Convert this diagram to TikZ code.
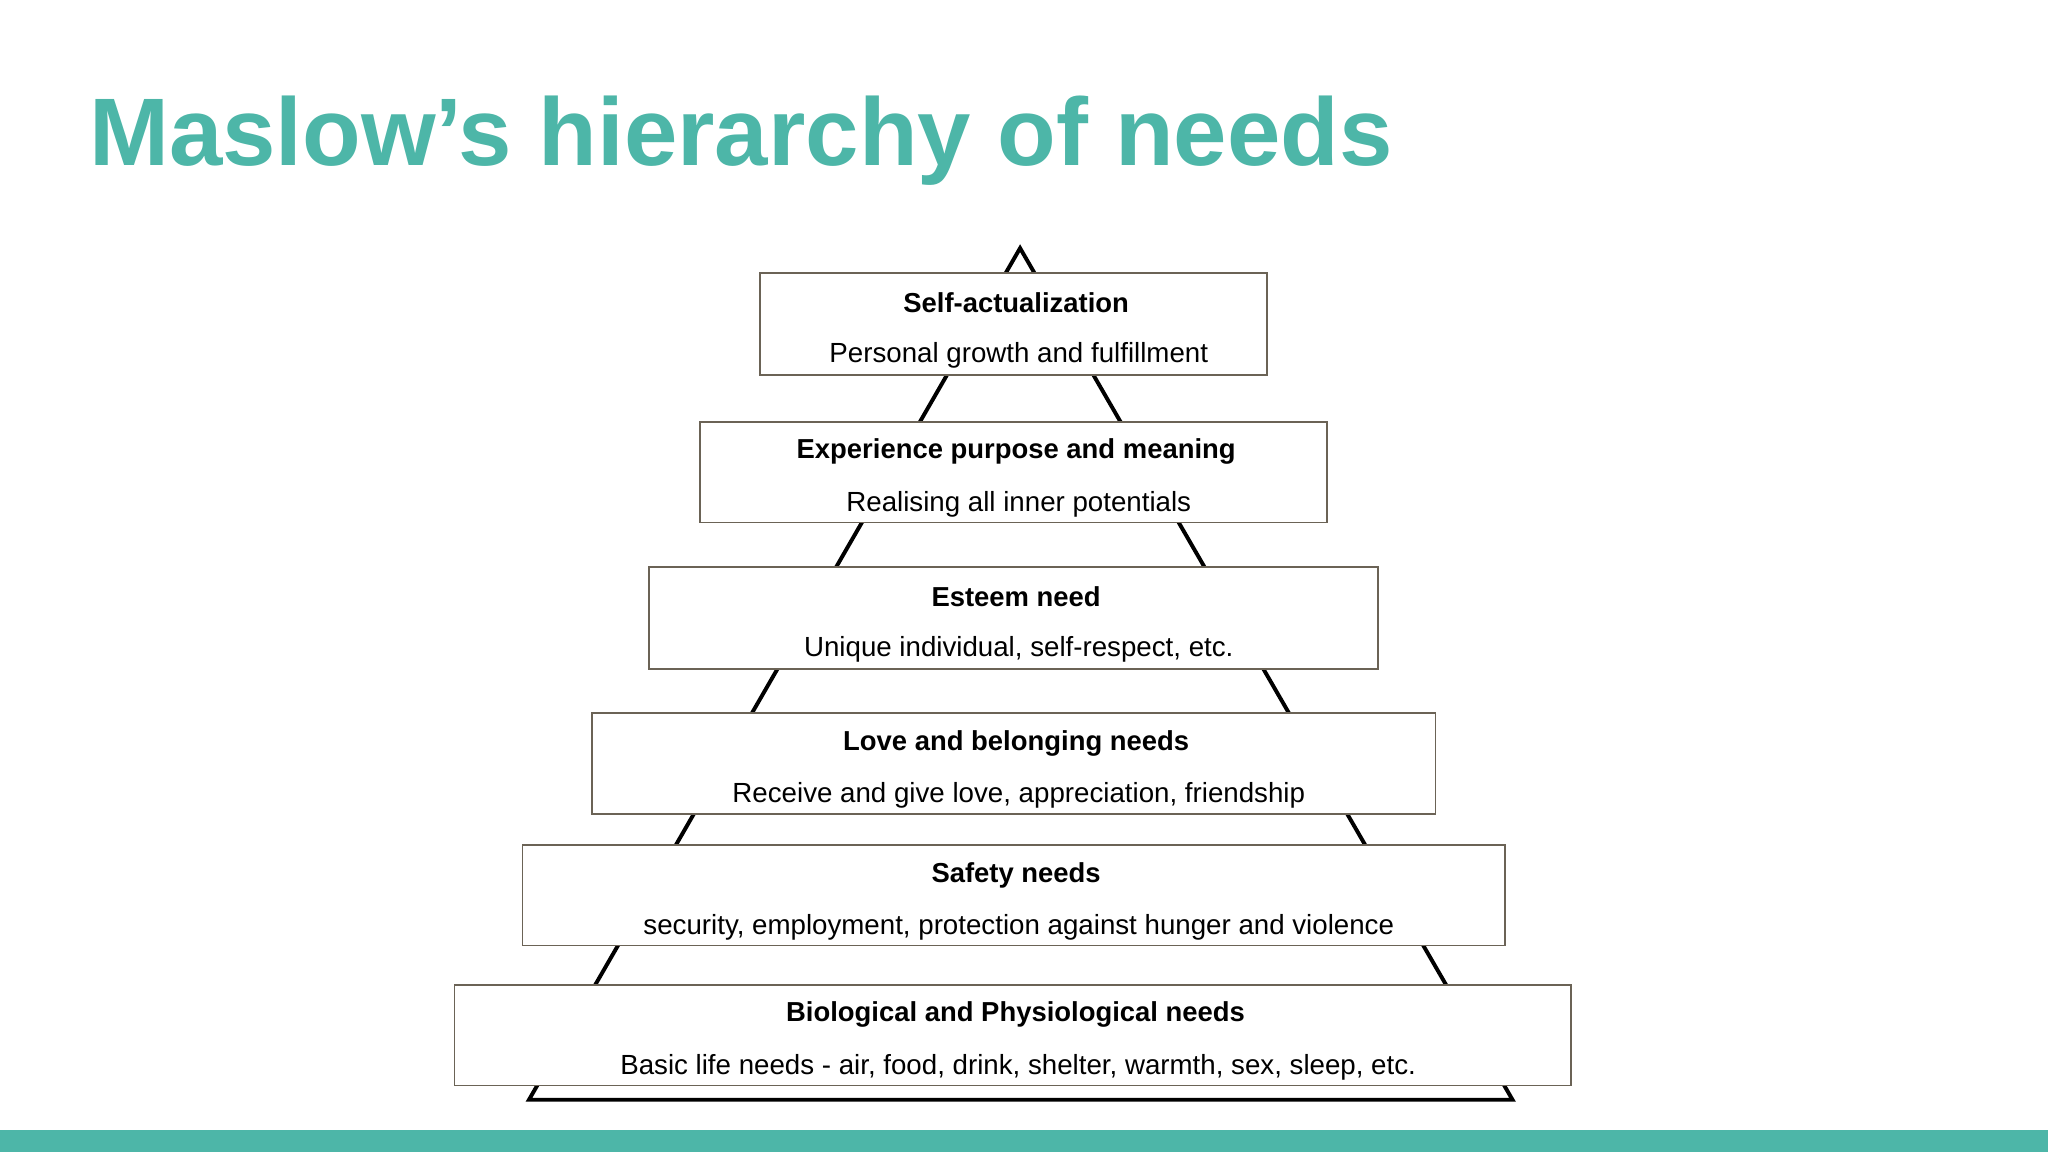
\documentclass[tikz,border=0pt]{standalone}
\usepackage{fontspec}
\setmainfont{Liberation Sans}
\definecolor{teal1}{HTML}{4DB6A8}
\definecolor{boxb}{HTML}{6B6356}
\begin{document}
\begin{tikzpicture}[x=1pt,y=-1pt,
  lvl/.style={draw=boxb,line width=1.3pt,fill=white},
  ttl/.style={font=\fontsize{21}{24}\selectfont\bfseries,anchor=center},
  sub/.style={font=\fontsize{21.2}{24}\selectfont,anchor=center}]
\useasboundingbox (0,0) rectangle (1568,882);
\fill[white] (0,0) rectangle (1568,882);
\fill[teal1] (0,865) rectangle (1568,882);
\node[anchor=base west,inner sep=0,text=teal1,font=\fontsize{73.5}{90}\selectfont\bfseries] (title) at (68,127) {Maslow’s hierarchy of needs};
\coordinate (apex) at (781,190);
\coordinate (bl) at (405,842);
\coordinate (br) at (1158,842);
\draw[line width=3pt,line join=miter] (apex) -- (bl) -- (br) -- cycle;
\foreach \n/\xa/\xb/\ya/\yb/\t/\s in {
 a/582/970/209/287/Self-actualization/Personal growth and fulfillment,
 b/536/1016/323/400/Experience purpose and meaning/Realising all inner potentials,
 c/497/1055/434/512/Esteem need/{Unique individual, self-respect, etc.},
 d/453/1099/546/623/Love and belonging needs/{Receive and give love, appreciation, friendship},
 e/400/1152/647/724/Safety needs/{security, employment, protection against hunger and violence},
 f/348/1203/754/831/Biological and Physiological needs/{Basic life needs - air, food, drink, shelter, warmth, sex, sleep, etc.}}{
  \draw[lvl] (\xa,\ya) rectangle (\xb,\yb);
  \node[ttl] (\n t) at ({(\xa+\xb)/2+2},\ya+23) {\t};
  \node[sub] (\n s) at ({(\xa+\xb)/2+4},\ya+63) {\s};
}
\end{tikzpicture}
\end{document}
